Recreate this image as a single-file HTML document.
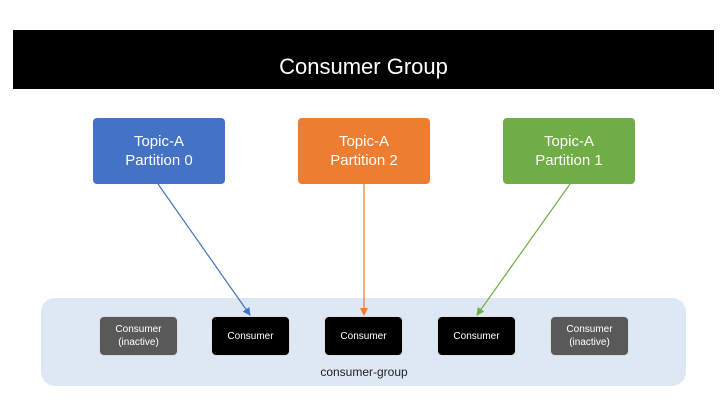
<!DOCTYPE html>
<html><head><style>
body{margin:0;width:727px;height:413px;background:#fff;position:relative;overflow:hidden;font-family:"Liberation Sans",sans-serif}
.a{position:absolute;box-sizing:border-box;display:flex;align-items:center;justify-content:center;text-align:center}
.t{color:#fff;font-size:15px;line-height:19px;border-radius:4px;width:132px;height:66px;top:118px}
.c{color:#fff;font-size:10px;line-height:13px;border-radius:5px;width:79px;height:40px;top:316px;border:1px solid #ddd}
</style></head><body>
<div class="a" style="left:13px;top:30px;width:701px;height:59px;background:#000;color:#fff;font-size:22px;padding-top:14px">Consumer Group</div>
<div class="a t" style="left:93px;background:#4472c4">Topic-A<br>Partition 0</div>
<div class="a t" style="left:298px;background:#ed7d31">Topic-A<br>Partition 2</div>
<div class="a t" style="left:503px;background:#70ad47">Topic-A<br>Partition 1</div>
<div class="a" style="left:41px;top:298px;width:645px;height:88px;background:#dde8f4;border-radius:14px"></div>
<div class="a c" style="left:99px;background:#595959">Consumer<br>(inactive)</div>
<div class="a c" style="left:211px;background:#000">Consumer</div>
<div class="a c" style="left:324px;background:#000">Consumer</div>
<div class="a c" style="left:437px;background:#000">Consumer</div>
<div class="a c" style="left:550px;background:#595959">Consumer<br>(inactive)</div>
<div class="a" style="left:264px;top:364px;width:200px;height:16px;font-size:12px;color:#222">consumer-group</div>
<svg style="position:absolute;left:0;top:0" width="727" height="413">
<defs>
<marker id="mb" markerWidth="8" markerHeight="8" refX="7" refY="4" orient="auto" markerUnits="userSpaceOnUse"><path d="M0,0L8,4L0,8z" fill="#4472c4"/></marker>
<marker id="mo" markerWidth="8" markerHeight="8" refX="7" refY="4" orient="auto" markerUnits="userSpaceOnUse"><path d="M0,0L8,4L0,8z" fill="#ed7d31"/></marker>
<marker id="mg" markerWidth="8" markerHeight="8" refX="7" refY="4" orient="auto" markerUnits="userSpaceOnUse"><path d="M0,0L8,4L0,8z" fill="#70ad47"/></marker>
</defs>
<line x1="158" y1="184" x2="250" y2="315" stroke="#4472c4" stroke-width="1.2" marker-end="url(#mb)"/>
<line x1="364" y1="184" x2="364" y2="315" stroke="#ed7d31" stroke-width="1.2" marker-end="url(#mo)"/>
<line x1="570" y1="184" x2="477" y2="315" stroke="#70ad47" stroke-width="1.2" marker-end="url(#mg)"/>
</svg>
</body></html>
